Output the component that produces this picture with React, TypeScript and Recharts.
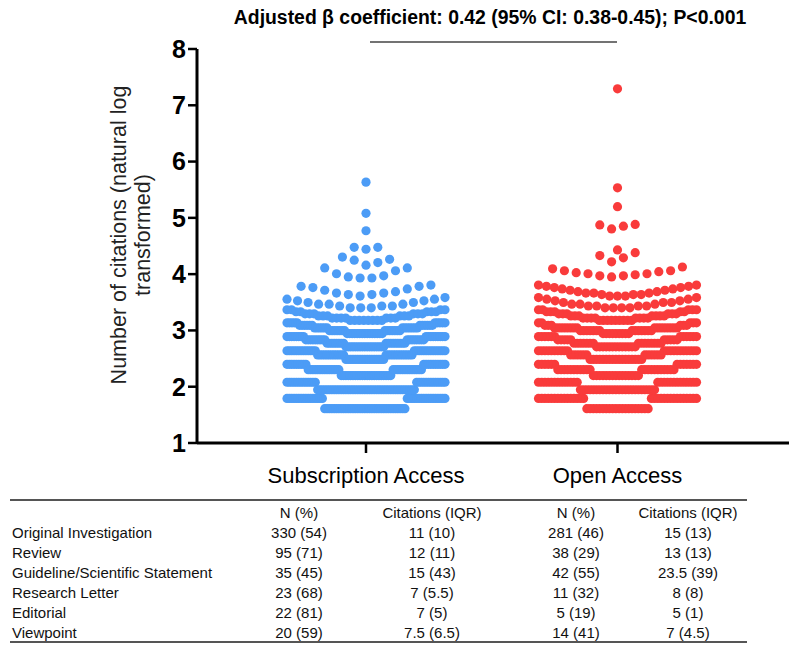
import { ScatterChart, Scatter, XAxis, YAxis } from 'recharts';

// citations per article, counted at each integer level (y axis is ln(citations))
const citationLevels = [
  5, 6, 7, 8, 9, 10, 11, 12, 13, 14, 15, 16, 17, 18, 19, 20, 21, 22, 23, 24, 25,
  26, 27, 28, 29, 30, 31, 32, 33, 34, 35, 36, 37, 38, 39, 40, 41, 42, 43, 44, 45,
];
const subscriptionCounts = [
  35, 33, 42, 26, 22, 27, 19, 17, 24, 27, 17, 17, 17, 17, 15, 14, 13, 12, 10, 8, 7,
  6, 6, 5, 4, 3, 3, 3, 2, 2, 2, 1, 1, 2, 2, 1, 1, 1, 1, 2, 1,
];
const openAccessCounts = [
  20, 30, 24, 26, 15, 22, 13, 17, 12, 21, 13, 15, 10, 12, 9, 14, 16, 6, 5, 9, 8,
  7, 6, 5, 5, 4, 4, 3, 3, 2, 2, 2, 3, 3, 3, 2, 2, 2, 2, 2, 2,
];
// single articles above 45 citations
const subscriptionHigh = [51, 51, 52, 53, 55, 58, 61, 61, 64, 67, 70, 71, 74, 85, 88, 88, 118, 161, 280];
const openAccessHigh = [
  52, 53, 53, 54, 55, 55, 56, 57, 58, 58, 60, 62, 68, 73, 76, 80, 84, 122, 128, 131, 132, 181, 253, 1470,
];

const groupNames = ['Subscription Access', 'Open Access'];
const yTicks = [1, 2, 3, 4, 5, 6, 7, 8];

const articleTypes = [
  'Original Investigation',
  'Review',
  'Guideline/Scientific Statement',
  'Research Letter',
  'Editorial',
  'Viewpoint',
];
const subscriptionN = ['330 (54)', '95 (71)', '35 (45)', '23 (68)', '22 (81)', '20 (59)'];
const subscriptionCitations = ['11 (10)', '12 (11)', '15 (43)', '7 (5.5)', '7 (5)', '7.5 (6.5)'];
const openAccessN = ['281 (46)', '38 (29)', '42 (55)', '11 (32)', '5 (19)', '14 (41)'];
const openAccessCitations = ['15 (13)', '13 (13)', '23.5 (39)', '8 (8)', '5 (1)', '7 (4.5)'];

const FONT = "'Liberation Sans', Arial, sans-serif";
const BLUE = '#4c9cf6';
const RED = '#f93b3b';

// plot geometry
const W = 800;
const H = 654;
const PLOT_LEFT = 197;
const PLOT_RIGHT = 789;
const PLOT_TOP = 49;
const PLOT_BOTTOM = 443;
const PX_PER_X = 251.5;
const X_MIN = 1 - (366 - PLOT_LEFT) / PX_PER_X;
const X_MAX = X_MIN + (PLOT_RIGHT - PLOT_LEFT) / PX_PER_X;
const PX_PER_Y = (PLOT_BOTTOM - PLOT_TOP) / 7;

// Prism-like column scatter: bin nearby values, lowest in the middle, spread outwards
const BIN_PX = 11.5;
const DOT_STEP = 11.8;
const MAX_WIDTH = 158;
const R = 4.6;

function expand(levels: number[], counts: number[], extra: number[]) {
  const out: number[] = [];
  levels.forEach((c, i) => {
    for (let k = 0; k < counts[i]; k++) out.push(c);
  });
  return out.concat(extra);
}

function swarm(values: number[], center: number) {
  const sorted = [...values].sort((a, b) => a - b);
  const pts: { x: number; y: number; citations: number }[] = [];
  let i = 0;
  while (i < sorted.length) {
    const start = Math.log(sorted[i]);
    let j = i;
    while (j < sorted.length && (Math.log(sorted[j]) - start) * PX_PER_Y <= BIN_PX) j++;
    const bin = sorted.slice(i, j);
    const n = bin.length;
    const step = n > 1 ? Math.min(DOT_STEP, MAX_WIDTH / (n - 1)) : 0;
    bin.forEach((c, k) => {
      let slot;
      if (n % 2 === 1) slot = k === 0 ? 0 : k % 2 === 1 ? (k + 1) / 2 : -k / 2;
      else slot = k % 2 === 0 ? -(k / 2 + 0.5) : (k - 1) / 2 + 0.5;
      pts.push({ x: center + (slot * step) / PX_PER_X, y: Math.log(c), citations: c });
    });
    i = j;
  }
  return pts;
}

const subscriptionPoints = swarm(expand(citationLevels, subscriptionCounts, subscriptionHigh), 1);
const openAccessPoints = swarm(expand(citationLevels, openAccessCounts, openAccessHigh), 2);

const dot = (color: string) => (props: any) => (
  <circle cx={props.cx} cy={props.cy} r={R} fill={color} />
);

const colX = [299, 432, 576, 688];

export default function App() {
  return (
    <div style={{ position: 'absolute', left: 0, top: 0, width: W, height: H, background: '#fff' }}>
      <ScatterChart
        width={W}
        height={H}
        margin={{ top: PLOT_TOP, right: W - PLOT_RIGHT, bottom: H - PLOT_BOTTOM - 30, left: PLOT_LEFT - 60 }}
      >
        <XAxis
          dataKey="x"
          type="number"
          domain={[X_MIN, X_MAX]}
          ticks={[1, 2]}
          allowDataOverflow
          height={30}
          tickFormatter={(v) => (v === 1 ? groupNames[0] : groupNames[1])}
          axisLine={{ stroke: '#000', strokeWidth: 3 }}
          tickLine={{ stroke: '#000', strokeWidth: 2.5 }}
          tickSize={10}
          tickMargin={14}
          tick={{ fontSize: 22, fill: '#000', fontFamily: FONT }}
        />
        <YAxis
          dataKey="y"
          type="number"
          domain={[1, 8]}
          ticks={yTicks}
          allowDataOverflow
          width={60}
          axisLine={{ stroke: '#000', strokeWidth: 3 }}
          tickLine={{ stroke: '#000', strokeWidth: 2.5 }}
          tickSize={9}
          tickMargin={2}
          tick={{ fontSize: 25, fontWeight: 'bold', fill: '#000', fontFamily: FONT }}
        />
        <Scatter data={subscriptionPoints} fill={BLUE} shape={dot(BLUE)} isAnimationActive={false} />
        <Scatter data={openAccessPoints} fill={RED} shape={dot(RED)} isAnimationActive={false} />
      </ScatterChart>

      <svg
        width={W}
        height={H}
        style={{ position: 'absolute', left: 0, top: 0, pointerEvents: 'none' }}
        fontFamily={FONT}
      >
        <text x={490} y={24} textAnchor="middle" fontSize={19.4} fontWeight="bold">
          Adjusted β coefficient: 0.42 (95% CI: 0.38-0.45); P&lt;0.001
        </text>
        <line x1={370} x2={617} y1={42} y2={42} stroke="#444" strokeWidth={1.5} />

        <g transform="translate(0,235) rotate(-90)" fontSize={21.5} fill="#222" textAnchor="middle">
          <text x={0} y={126}>Number of citations (natural log</text>
          <text x={0} y={150}>transformed)</text>
        </g>

        <line x1={10} x2={747} y1={500} y2={500} stroke="#555" strokeWidth={2} />
        <line x1={10} x2={747} y1={642} y2={642} stroke="#555" strokeWidth={2} />
        <g fontSize={15} fill="#111">
          <text x={colX[0]} y={518} textAnchor="middle">N (%)</text>
          <text x={colX[1]} y={518} textAnchor="middle">Citations (IQR)</text>
          <text x={colX[2]} y={518} textAnchor="middle">N (%)</text>
          <text x={colX[3]} y={518} textAnchor="middle">Citations (IQR)</text>
          {articleTypes.map((t, i) => (
            <g key={t}>
              <text x={12} y={538 + i * 20}>{t}</text>
              <text x={colX[0]} y={538 + i * 20} textAnchor="middle">{subscriptionN[i]}</text>
              <text x={colX[1]} y={538 + i * 20} textAnchor="middle">{subscriptionCitations[i]}</text>
              <text x={colX[2]} y={538 + i * 20} textAnchor="middle">{openAccessN[i]}</text>
              <text x={colX[3]} y={538 + i * 20} textAnchor="middle">{openAccessCitations[i]}</text>
            </g>
          ))}
        </g>
      </svg>
    </div>
  );
}
